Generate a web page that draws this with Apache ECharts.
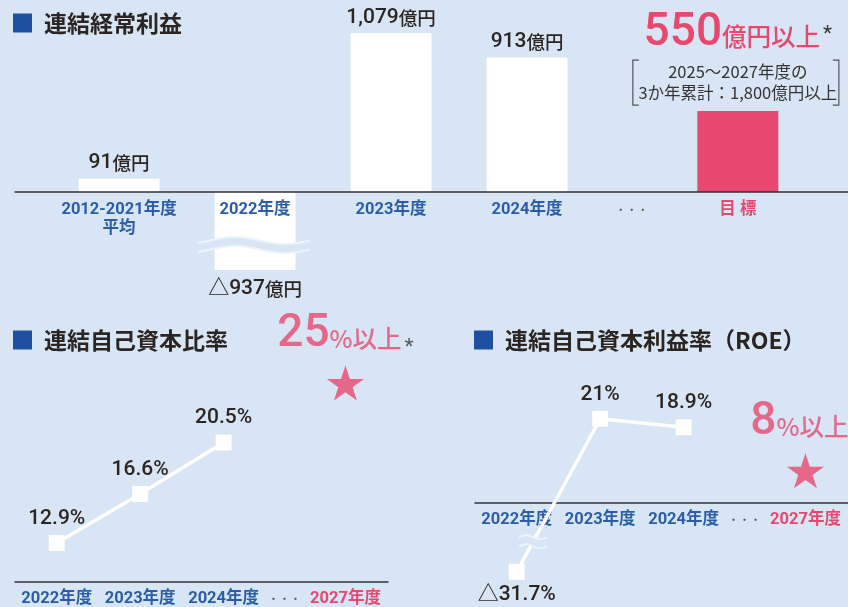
<!DOCTYPE html>
<html lang="ja">
<head>
<meta charset="utf-8">
<script src="https://cdn.jsdelivr.net/npm/echarts@6/dist/echarts.min.js"></script>
<style>
  html, body { margin: 0; padding: 0; background: #d7e5f4; }
  #chart { width: 848px; height: 607px; }
</style>
</head>
<body>
<div id="chart"></div>
<script>
// 連結経常利益（億円）
const profitCategories = ['2012-2021年度\n平均', '2022年度', '2023年度', '2024年度', '・・・', '目 標']
const profitValues = [91, -937, 1079, 913, null, 550]
const profitSlots = [0, 1, 2, 3, 3.77, 4.55]

// 連結自己資本比率・ROE（%）
const yearCategories = ['2022年度', '2023年度', '2024年度', '・・・', '2027年度']
const equityRatio = [12.9, 16.6, 20.5]
const equityTarget = 25
const roeValues = [-31.7, 21, 18.9]
const roeTarget = 8
const yearSlots = [0, 1, 2, 2.73, 3.46]

const BG = '#d7e5f4'
const BLUE = '#2a5caa'
const PINK = '#e8476e'
const INK = '#2a2523'
const NAVY = '#1e4fa0'
const NUM = 'Roboto, "Noto Sans CJK JP", sans-serif'
const JP = '"Noto Sans CJK JP", sans-serif'

const STAR = 'path://M50,0 L61.8,35.1 L98.9,35.1 L68.9,56.8 L80.3,91.9 L50,70.2 L19.7,91.9 L31.1,56.8 L1.1,35.1 L38.2,35.1 Z'

const grids = [
  { left: 15, width: 833, top: 2, height: 268 },
  { left: 15, width: 373, top: 317, height: 266 },
  { left: 475, width: 373, top: 317, height: 260 },
]

const fmtOku = (v) => (v < 0 ? '△' : '') + Math.abs(v).toLocaleString('en-US')

const slotFormatter = (slots, cats, targetIdx) => (v) => {
  const i = slots.findIndex((s) => Math.abs(s - v) < 1e-6)
  if (i < 0) return ''
  if (cats[i] === '・・・') return '{d|・・・}'
  const k = i === targetIdx ? 'p' : 'b'
  return cats[i].split('\n').map((t) => `{${k}|${t}}`).join('\n')
}

const axisRich = {
  b: { color: BLUE, fontSize: 16.5, fontWeight: 'bold', fontFamily: NUM, lineHeight: 19 },
  p: { color: PINK, fontSize: 16.5, fontWeight: 'bold', fontFamily: NUM, lineHeight: 19 },
  d: { color: '#555', fontSize: 11, fontFamily: JP, lineHeight: 19 },
}

const xAxisFor = (gridIndex, slots, cats, targetIdx, min, max) => ({
  type: 'value', gridIndex, min, max, z: 3,
  axisLine: { show: true, onZero: false, lineStyle: { color: '#333', width: 1.5 } },
  axisTick: { show: false },
  splitLine: { show: false },
  axisLabel: {
    customValues: slots, margin: 8, rich: axisRich,
    formatter: slotFormatter(slots, cats, targetIdx),
  },
})

const titleRich = {
  sq: { width: 19, height: 19, backgroundColor: NAVY },
  t: { fontSize: 23, fontFamily: JP, fontWeight: 'bold', color: INK, padding: [0, 0, 0, 12], lineHeight: 28 },
}

const valueRich = {
  num: { fontSize: 21, fontWeight: 500, color: INK, fontFamily: NUM },
  unit: { fontSize: 18.5, fontWeight: 500, color: INK, fontFamily: JP },
  pct: { fontSize: 21, fontWeight: 500, color: INK, fontFamily: NUM },
  big: { fontSize: 46, fontWeight: 500, color: PINK, fontFamily: NUM, lineHeight: 56 },
  pu: { fontSize: 24.5, fontWeight: 500, color: PINK, fontFamily: JP, padding: [8, 0, 0, 0] },
  ast: { fontSize: 21, color: '#333', fontFamily: NUM, padding: [3, 0, 0, 3] },
  astP: { fontSize: 21, color: '#333', fontFamily: NUM, padding: [26, 0, 0, 3] },
  sub: { fontSize: 16.5, color: '#333', fontFamily: JP, lineHeight: 21 },
}

const profitData = profitSlots.map((x, i) => {
  const v = profitValues[i]
  if (v == null) return null
  const item = { value: [x, v], itemStyle: { color: i === 5 ? PINK : '#fff' } }
  if (v < 0) item.label = { position: 'bottom', distance: 8 }
  if (i === 5) {
    item.label = {
      distance: 8,
      formatter: `{big|${v}}{pu|億円以上}{ast|*}\n{sub|2025～2027年度の}\n{sub|3か年累計：1,800億円以上}`,
    }
  }
  return item
}).filter(Boolean)

const lineLabel = {
  show: true, position: 'top', distance: 6, rich: valueRich,
  formatter: (p) => `{pct|${fmtOku(p.value[1])}%}`,
}

const targetLabel = {
  show: true, position: 'top', distance: 3, rich: valueRich,
  formatter: (p) => `{big|${p.value[1]}}{pu|%以上}{astP|*}`,
}

const chart = echarts.init(document.getElementById('chart'))
chart.setOption({
  backgroundColor: BG,
  animation: false,
  title: [
    { text: '{sq|}{t|連結経常利益}', left: 13, top: 9, padding: 0, textStyle: { rich: titleRich } },
    { text: '{sq|}{t|連結自己資本比率}', left: 13, top: 326, padding: 0, textStyle: { rich: titleRich } },
    { text: '{sq|}{t|連結自己資本利益率（ROE）}', left: 474, top: 326, padding: 0, textStyle: { rich: titleRich } },
  ],
  grid: grids,
  xAxis: [
    xAxisFor(0, profitSlots, profitCategories, 5, -0.765, 5.36),
    xAxisFor(1, yearSlots, yearCategories, 4, -0.5, 3.97),
    xAxisFor(2, yearSlots, yearCategories, 4, -0.5, 3.97),
  ],
  yAxis: [
    {
      type: 'value', gridIndex: 0, show: false, min: -937, max: 1290,
      breaks: [{ start: -815, end: -312, gap: 95 }],
      breakArea: { show: false },
    },
    { type: 'value', gridIndex: 1, show: false, min: 10, max: 30 },
    {
      type: 'value', gridIndex: 2, show: false, min: -33, max: 46.45,
      breaks: [{ start: -25.95, end: -9, gap: 2.5 }],
      breakArea: { show: false },
    },
  ],
  series: [
    {
      type: 'bar', xAxisIndex: 0, yAxisIndex: 0, barWidth: 81,
      label: {
        show: true, position: 'top', distance: 5, rich: valueRich,
        formatter: (p) => `{num|${fmtOku(p.value[1])}}{unit|億円}`,
      },
      data: profitData,
    },
    {
      type: 'line', xAxisIndex: 1, yAxisIndex: 1, symbol: 'rect', symbolSize: 16,
      lineStyle: { color: '#fff', width: 3.5 }, itemStyle: { color: '#fff' },
      label: lineLabel, clip: false,
      data: equityRatio.map((v, i) => [yearSlots[i], v]),
    },
    {
      type: 'scatter', xAxisIndex: 1, yAxisIndex: 1, symbol: STAR, symbolSize: [37, 35],
      itemStyle: { color: PINK }, label: targetLabel,
      data: [[yearSlots[4], equityTarget]],
    },
    {
      type: 'line', xAxisIndex: 2, yAxisIndex: 2, symbol: 'rect', symbolSize: 16,
      lineStyle: { color: '#fff', width: 3.5 }, itemStyle: { color: '#fff' },
      label: lineLabel, clip: false,
      data: roeValues.map((v, i) => ({
        value: [yearSlots[i], v],
        label: v < 0 ? { position: 'bottom', distance: 4 } : undefined,
      })),
    },
    {
      type: 'scatter', xAxisIndex: 2, yAxisIndex: 2, symbol: STAR, symbolSize: [37, 35],
      itemStyle: { color: PINK }, label: targetLabel,
      data: [[yearSlots[4], roeTarget]],
    },
  ],
})

const px = (g, x, y) => chart.convertToPixel({ gridIndex: g }, [x, y])

// move the category axes of the two charts with negatives up to the zero line
const zeroOffset = (g) => px(g, 0, 0)[1] - (grids[g].top + grids[g].height)

// break marks and the bracket round the 3-year note, placed from the axes
const waveMark = (cx, cy, left, right, half, amp, period, peakX) => {
  const top = [], bottom = []
  for (let x = cx - left; x <= cx + right; x += 1) {
    const f = -Math.cos((2 * Math.PI * (x - peakX)) / period)
    top.push([x, cy - half + amp * f])
    bottom.push([x, cy + half + amp * f])
  }
  return [
    { type: 'polygon', z: 100, shape: { points: top.concat(bottom.slice().reverse()) }, style: { fill: BG } },
    { type: 'polyline', z: 101, shape: { points: top }, style: { stroke: '#eef4fb', lineWidth: 2, fill: null } },
    { type: 'polyline', z: 101, shape: { points: bottom }, style: { stroke: '#eef4fb', lineWidth: 2, fill: null } },
  ]
}

const graphics = []

// 2022年度 bar break
const [bx] = px(0, profitSlots[1], 0)
const by = (px(0, 0, -312)[1] + px(0, 0, -815)[1]) / 2
graphics.push(...waveMark(bx, by, 57, 55, 4.5, 3.5, 100, bx - 20))

// ROE 2022 line break
const p0 = px(2, yearSlots[0], roeValues[0])
const p1 = px(2, yearSlots[1], roeValues[1])
const ry = (px(2, 0, -9)[1] + px(2, 0, -25.95)[1]) / 2 - 2
const rx = p0[0] + ((ry - p0[1]) / (p1[1] - p0[1])) * (p1[0] - p0[0])
graphics.push(...waveMark(rx, ry, 14, 14, 4.5, 2, 28, rx - 7))

// bracket
const [tx, ty] = px(0, profitSlots[5], profitValues[5])
const bl = tx - 105, br = tx + 101, bt = ty - 51, bb = ty - 6
const bracket = { stroke: '#555', lineWidth: 1.2, fill: null }
graphics.push(
  { type: 'polyline', shape: { points: [[bl + 6, bt], [bl, bt], [bl, bb], [bl + 6, bb]] }, style: bracket },
  { type: 'polyline', shape: { points: [[br - 6, bt], [br, bt], [br, bb], [br - 6, bb]] }, style: bracket },
)

chart.setOption({
  xAxis: [{ offset: zeroOffset(0) }, {}, { offset: zeroOffset(2) }],
  graphic: graphics,
})
</script>
</body>
</html>
